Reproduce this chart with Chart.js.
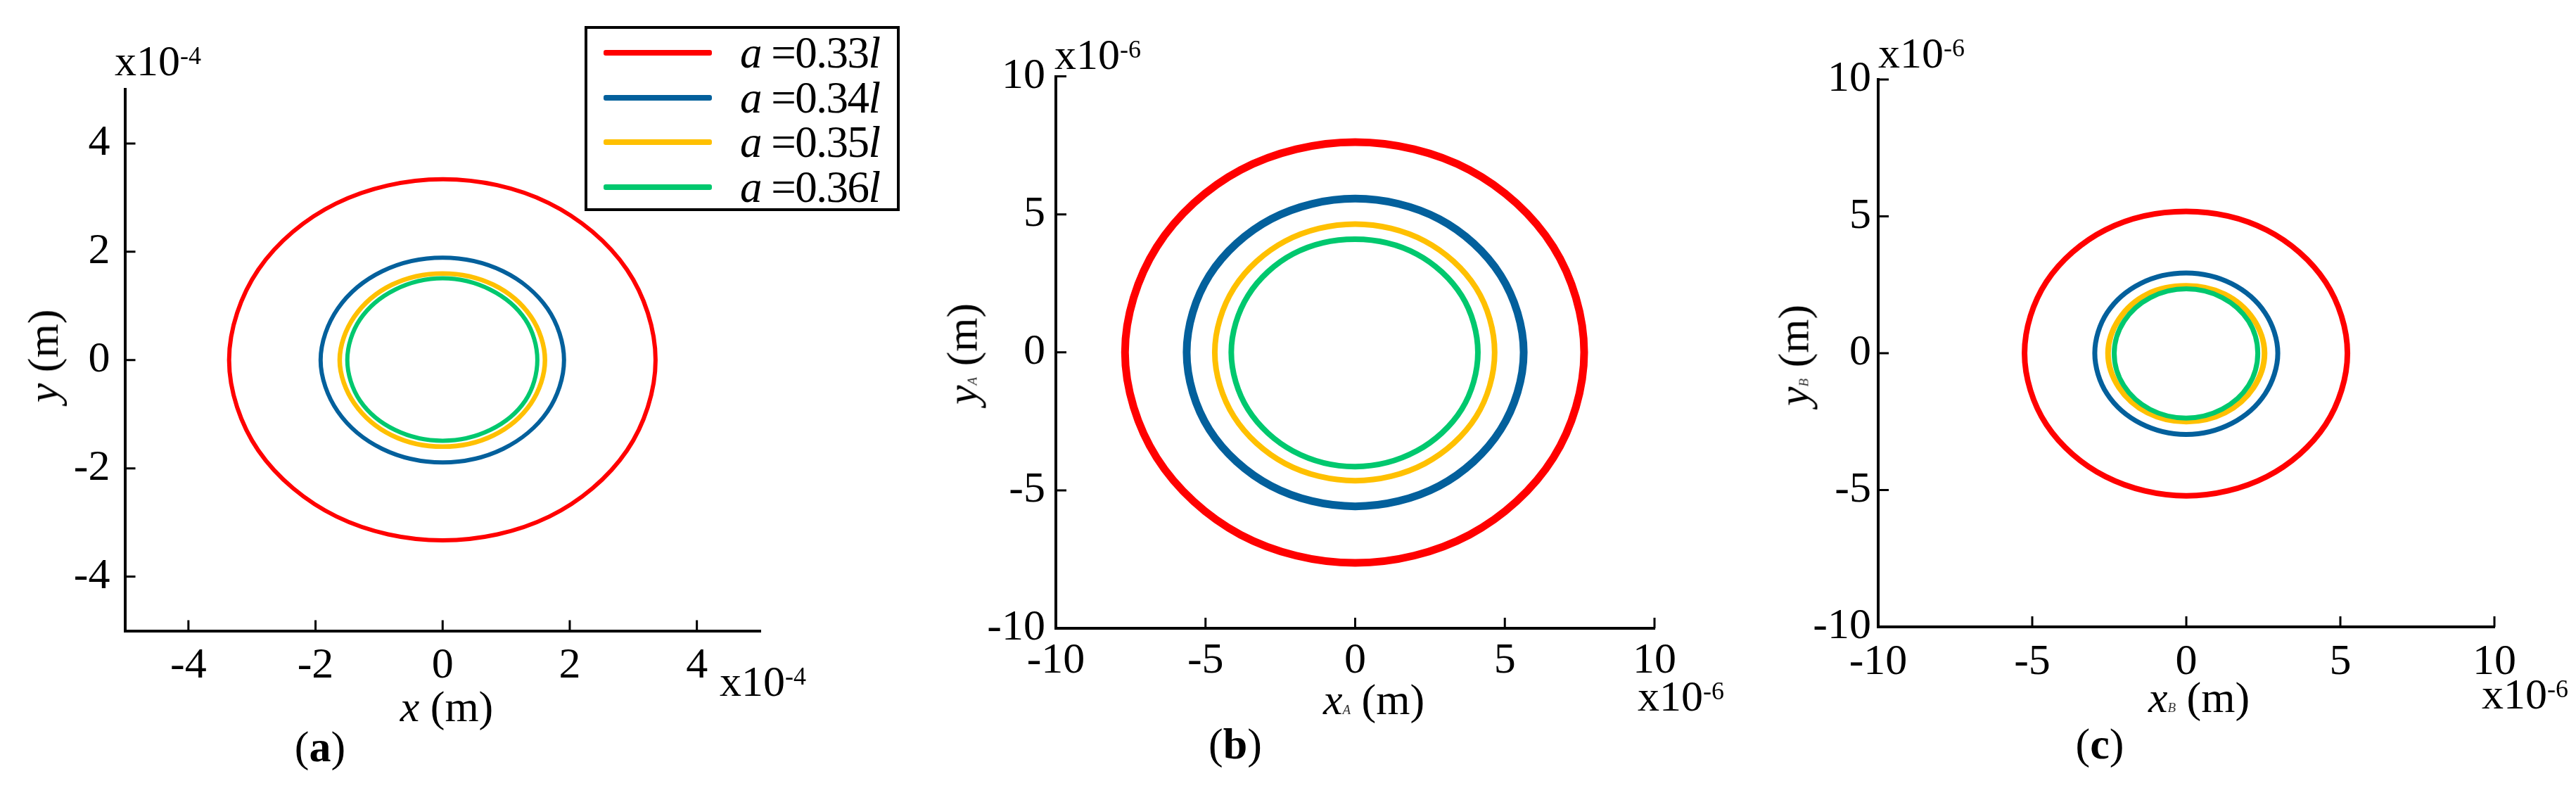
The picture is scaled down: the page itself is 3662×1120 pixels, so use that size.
<!DOCTYPE html>
<html><head><meta charset="utf-8">
<script src="https://cdn.jsdelivr.net/npm/chart.js@4.4.1/dist/chart.umd.min.js"></script>
<style>
html,body{margin:0;padding:0;background:#fff;}
body{width:3662px;height:1120px;position:relative;overflow:hidden;font-family:'Liberation Serif',serif;color:#000;}
canvas.cv{position:absolute;top:0;}
.t{position:absolute;font-size:62px;line-height:62px;white-space:nowrap;}
.c{transform:translateX(-50%);}
.r{transform:translate(-50%,-50%) rotate(-90deg);}
.sub{font-size:19px;font-style:italic;color:#333;}
.sup{font-size:36px;position:relative;top:-16px;}
#legend{position:absolute;left:831px;top:37px;width:448px;height:263px;border:4px solid #000;box-sizing:border-box;background:#fff;}
#legend .ln{position:absolute;left:23px;width:154px;height:8px;border-radius:3px;}
#legend .lt{position:absolute;left:217px;font-size:63px;line-height:63px;white-space:nowrap;letter-spacing:-1.5px;}
</style>
</head><body>
<canvas id="cA" class="cv"></canvas>
<canvas id="cB" class="cv"></canvas>
<canvas id="cC" class="cv"></canvas>
<div id="legend"></div>

<div class="t" style="left:163px;top:55px">x10<span class="sup">-4</span></div>
<div class="t" style="left:1023px;top:937px">x10<span class="sup">-4</span></div>
<div class="t c" style="left:635px;top:973px"><i>x</i> (m)</div>
<div class="t r" style="left:61px;top:506px"><i>y</i> (m)</div>
<div class="t c" style="left:455px;top:1030px">(<b>a</b>)</div>

<div class="t" style="left:1499px;top:46px">x10<span class="sup">-6</span></div>
<div class="t" style="left:2328px;top:958px">x10<span class="sup">-6</span></div>
<div class="t c" style="left:1953px;top:963px"><i>x</i><span class="sub">A</span> (m)</div>
<div class="t r" style="left:1375px;top:503px"><i>y</i><span class="sub">A</span> (m)</div>
<div class="t c" style="left:1756px;top:1026px">(<b>b</b>)</div>

<div class="t" style="left:2670px;top:44px">x10<span class="sup">-6</span></div>
<div class="t" style="left:3528px;top:955px">x10<span class="sup">-6</span></div>
<div class="t c" style="left:3126px;top:960px"><i>x</i><span class="sub">B</span> (m)</div>
<div class="t r" style="left:2557px;top:505px"><i>y</i><span class="sub">B</span> (m)</div>
<div class="t c" style="left:2985px;top:1026px">(<b>c</b>)</div>

<script>
// ---------------- data ----------------
const aValues = ['0.33', '0.34', '0.35', '0.36'];           // legend: a = value * l
const seriesColors = ['#ff0000', '#03609c', '#ffc000', '#00c86e'];

// tick values
const ticksA = [-4, -2, 0, 2, 4];          // panel (a), units of 1e-4 m
const ticksBC = [-10, -5, 0, 5, 10];       // panels (b),(c), units of 1e-6 m

// panel (a): trajectory (x, y), units of 1e-4 m
const pA_033 = [[3.35,0],[2.90,1.67],[1.67,2.90],[0,3.34],[-1.68,2.89],[-2.90,1.67],[-3.36,0],[-2.90,-1.67],[-1.67,-2.89],[0,-3.33],[1.68,-2.89],[2.90,-1.67]];
const pA_034 = [[1.91,0],[1.65,0.95],[0.95,1.64],[0,1.89],[-0.95,1.64],[-1.65,0.95],[-1.92,0],[-1.65,-0.95],[-0.95,-1.64],[0,-1.89],[0.95,-1.64],[1.65,-0.95]];
const pA_035 = [[1.61,0],[1.39,0.80],[0.80,1.39],[0,1.60],[-0.80,1.39],[-1.39,0.80],[-1.62,0],[-1.39,-0.80],[-0.80,-1.39],[0,-1.60],[0.80,-1.39],[1.39,-0.80]];
const pA_036 = [[1.49,0],[1.30,0.75],[0.75,1.30],[0,1.51],[-0.75,1.30],[-1.30,0.75],[-1.50,0],[-1.30,-0.75],[-0.75,-1.29],[0,-1.49],[0.75,-1.29],[1.30,-0.75]];

// panel (b): point A trajectory, units of 1e-6 m
const pB_033 = [[7.65,0],[6.62,3.82],[3.82,6.61],[0,7.62],[-3.83,6.61],[-6.63,3.82],[-7.69,0],[-6.63,-3.82],[-3.83,-6.61],[0,-7.63],[3.82,-6.61],[6.62,-3.82]];
const pB_034 = [[5.63,0],[4.86,2.79],[2.81,4.83],[0,5.57],[-2.81,4.83],[-4.87,2.79],[-5.63,0],[-4.87,-2.80],[-2.81,-4.84],[0,-5.58],[2.81,-4.84],[4.86,-2.80]];
const pB_035 = [[4.66,0],[4.04,2.33],[2.33,4.03],[0,4.65],[-2.34,4.03],[-4.05,2.33],[-4.69,0],[-4.05,-2.33],[-2.34,-4.03],[0,-4.65],[2.33,-4.03],[4.04,-2.33]];
const pB_036 = [[4.10,0],[3.56,2.05],[2.06,3.56],[0,4.10],[-2.07,3.57],[-3.58,2.06],[-4.14,0],[-3.58,-2.07],[-2.07,-3.58],[0,-4.14],[2.06,-3.57],[3.56,-2.06]];

// panel (c): point B trajectory, units of 1e-6 m
const pC_033 = [[5.23,0],[4.52,2.60],[2.61,4.50],[0,5.18],[-2.62,4.51],[-4.54,2.61],[-5.25,0],[-4.54,-2.61],[-2.62,-4.51],[0,-5.21],[2.61,-4.51],[4.52,-2.61]];
const pC_034 = [[2.97,0],[2.56,1.47],[1.47,2.54],[0,2.93],[-1.48,2.55],[-2.57,1.48],[-2.97,0],[-2.57,-1.49],[-1.48,-2.57],[0,-2.97],[1.48,-2.56],[2.56,-1.48]];
const pC_035 = [[2.54,0],[2.18,1.24],[1.25,2.15],[0,2.46],[-1.26,2.16],[-2.18,1.25],[-2.54,0],[-2.18,-1.26],[-1.26,-2.17],[0,-2.50],[1.26,-2.17],[2.18,-1.26]];
const pC_036 = [[2.32,0],[2.02,1.17],[1.17,2.03],[0,2.35],[-1.17,2.03],[-2.02,1.17],[-2.34,0],[-2.03,-1.18],[-1.18,-2.05],[0,-2.37],[1.17,-2.04],[2.02,-1.18]];

// ---------------- layout ----------------
const panels = [
  {canvas:'cA', left:0,    width:1140, area:{l:177.5, r:1081, t:127,   b:896.5}, min:-5,  max:5,  ticks:ticksA,
   series:[pA_033,pA_034,pA_035,pA_036], widths:[6,6,6.5,6], yPad:21, xPad:13},
  {canvas:'cB', left:1260, width:1160, area:{l:1501,  r:2352, t:108.6, b:893},   min:-10, max:10, ticks:ticksBC,
   series:[pB_033,pB_034,pB_035,pB_036], widths:[11,11,8,8], yPad:15, xPad:10},
  {canvas:'cC', left:2440, width:1180, area:{l:2670,  r:3546, t:113,   b:891},   min:-10, max:10, ticks:ticksBC,
   series:[pC_033,pC_034,pC_035,pC_036], widths:[8,7,8,7], yPad:10, xPad:14}
];

Chart.defaults.font.family = "'Liberation Serif', serif";
Chart.defaults.color = '#000';

const closeLoop = {
  id: 'closeLoop',
  afterDatasetUpdate(chart, args) {
    const el = args.meta.dataset;
    if (el) { el._loop = true; el._fullLoop = true; el._pointsUpdated = false; el._segments = undefined; el._path = undefined; }
  }
};
const innerTicks = {
  id: 'innerTicks',
  afterDraw(chart) {
    const {ctx, chartArea: a, scales: {x, y}} = chart;
    ctx.save();
    ctx.strokeStyle = '#000'; ctx.lineWidth = 3; ctx.beginPath();
    x.ticks.forEach(t => { const p = x.getPixelForValue(t.value); ctx.moveTo(p, a.bottom); ctx.lineTo(p, a.bottom - 15); });
    y.ticks.forEach(t => { const p = y.getPixelForValue(t.value); ctx.moveTo(a.left, p); ctx.lineTo(a.left + 15, p); });
    ctx.stroke(); ctx.restore();
  }
};

const H = 1120;
panels.forEach(p => {
  const cv = document.getElementById(p.canvas);
  cv.width = p.width; cv.height = H;
  cv.style.left = p.left + 'px'; cv.style.width = p.width + 'px'; cv.style.height = H + 'px';
  const yW = p.area.l - p.left, xH = H - p.area.b;
  const scale = (isX) => ({
    type: 'linear', min: p.min, max: p.max,
    afterBuildTicks: s => { s.ticks = p.ticks.map(v => ({value: v})); },
    afterFit: s => { if (isX) s.height = xH; else s.width = yW; },
    grid: {display: true, drawOnChartArea: false, drawTicks: false},
    border: {display: true, color: '#000', width: 4},
    ticks: {font: {size: 62}, color: '#000', padding: isX ? p.xPad : p.yPad, autoSkip: false, maxRotation: 0,
            callback: v => String(v)}
  });
  new Chart(cv, {
    type: 'line',
    data: {
      datasets: p.series.map((s, i) => ({
        label: 'a =' + aValues[i] + 'l',
        data: s.map(([x, y]) => ({x, y})),
        borderColor: seriesColors[i], backgroundColor: seriesColors[i],
        borderWidth: p.widths[i], pointRadius: 0, tension: 0.34, fill: false, order: 3 - i
      }))
    },
    options: {
      responsive: false, animation: false, devicePixelRatio: 1,
      layout: {padding: {left: 0, top: p.area.t, right: p.left + p.width - p.area.r, bottom: 0}},
      plugins: {legend: {display: false}, tooltip: {enabled: false}},
      scales: {x: scale(true), y: scale(false)}
    },
    plugins: [closeLoop, innerTicks]
  });
});

// HTML legend built from the series definitions
const leg = document.getElementById('legend');
aValues.forEach((v, i) => {
  const rowY = 75 + i * 63.5 - 41;   // relative to legend inner box
  const ln = document.createElement('div');
  ln.className = 'ln'; ln.style.top = (rowY - 4) + 'px'; ln.style.background = seriesColors[i];
  const lt = document.createElement('div');
  lt.className = 'lt'; lt.style.top = (rowY - 31) + 'px';
  lt.innerHTML = '<i>a</i> =' + v + '<i>l</i>';
  leg.appendChild(ln); leg.appendChild(lt);
});
</script>
</body></html>
